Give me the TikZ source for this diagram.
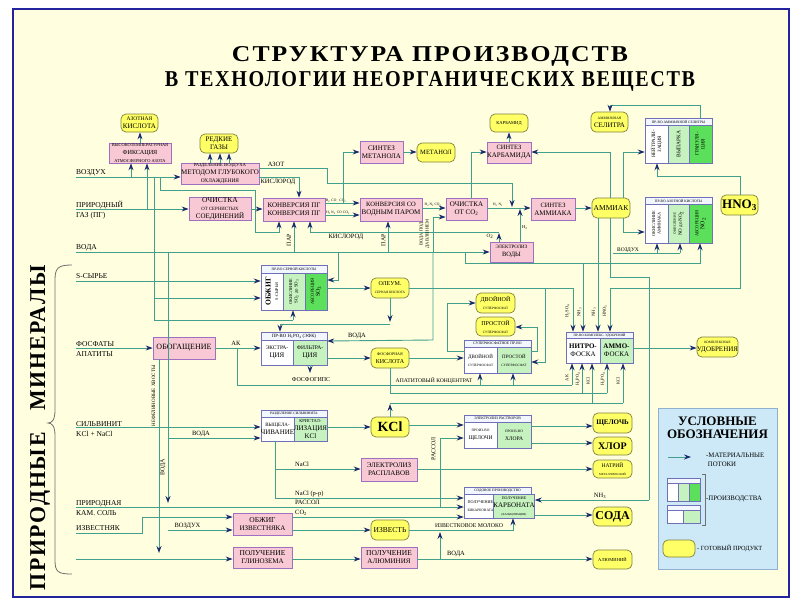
\documentclass[tikz,border=0pt]{standalone}
\usepackage{fontspec}
\setmainfont{Liberation Serif}
\newfontfamily\titlefont{Liberation Serif}[LetterSpace=8]
\usetikzlibrary{arrows.meta}
\definecolor{cream}{HTML}{FFFFE0}
\definecolor{frameC}{HTML}{2323A0}
\definecolor{procF}{HTML}{F8C8D4}
\definecolor{procB}{HTML}{A070C0}
\definecolor{yelF}{HTML}{FFFF66}
\definecolor{yelB}{HTML}{80803C}
\definecolor{lineC}{HTML}{40A08C}
\definecolor{arrC}{HTML}{1C2A6C}
\definecolor{lgF}{HTML}{C6F2C0}
\definecolor{gF}{HTML}{5CE05C}
\definecolor{hdrF}{HTML}{F2F6FF}
\definecolor{prodB}{HTML}{7070B8}
\definecolor{legF}{HTML}{CDE9F7}
\definecolor{legB}{HTML}{90B0D0}
\definecolor{braceC}{HTML}{707070}
\newcommand\fz[2]{\fontsize{#1}{#2}\selectfont}
\newcommand\sbs[1]{\textsubscript{#1}}
\newcommand\rb[7]{\node[#1, minimum width={#5pt-#3pt}, minimum height={#6pt-#4pt}] (#2) at ({(#3+#5)/2},{(#4+#6)/2}) {#7};}
\begin{document}
\begin{tikzpicture}[x=1pt,y=-1pt,
  base/.style={inner sep=0pt, align=center, font=\fz{7}{8}},
  proc/.style={base, draw=procB, fill=procF, line width=0.7pt},
  prod/.style={base, draw=yelB, fill=yelF, rounded corners=5pt, line width=0.7pt},
  hdr/.style={base, draw=prodB, fill=hdrF, line width=0.5pt, font=\fz{3.6}{4}},
  colw/.style={base, draw=prodB, fill=white, line width=0.5pt},
  coll/.style={base, draw=prodB, fill=lgF, line width=0.5pt},
  colg/.style={base, draw=prodB, fill=gF, line width=0.5pt},
  legbox/.style={base, draw=legB, fill=legF, line width=0.8pt},
  rot/.style={inner sep=0pt, align=center, rotate=90},
  flow/.style={draw=lineC, line width=0.9pt, -{Stealth[length=7pt,width=5pt,color=arrC]}},
  ln/.style={draw=lineC, line width=0.9pt},
  lbl/.style={inner sep=0pt, align=left, font=\fz{7.5}{10}},
  sml/.style={inner sep=0pt, align=center, font=\fz{6.5}{7}},
  tiny/.style={inner sep=0pt, align=center, font=\fz{3.6}{4}},
]
\useasboundingbox (0,0) rectangle (800,600);
\fill[white] (0,0) rectangle (800,600);
\fill[cream] (13,9) rectangle (789,597);
\draw[frameC, line width=1.8pt] (13,9) rectangle (789,597);

% titles
\node[inner sep=0pt, anchor=base] (t1) at (430,61) {\resizebox{396pt}{15pt}{\titlefont\bfseries СТРУКТУРА ПРОИЗВОДСТВ}};
\node[inner sep=0pt, anchor=base] (t2) at (430,86) {\resizebox{530pt}{15pt}{\titlefont\bfseries В ТЕХНОЛОГИИ НЕОРГАНИЧЕСКИХ ВЕЩЕСТВ}};
\node[inner sep=0pt, rotate=90, anchor=base] (tmin) at (45,428) {\resizebox{325pt}{15pt}{\titlefont\bfseries ПРИРОДНЫЕ\quad МИНЕРАЛЫ}};
\draw[braceC, line width=0.8pt] (72,265) .. controls (58,265) and (55,268) .. (55,280) -- (55,410) .. controls (55,420) and (52,423) .. (48,423) .. controls (52,423) and (55,426) .. (55,436) -- (55,560) .. controls (55,572) and (58,574) .. (72,574);

% input labels
\node[lbl, anchor=base west] (iVoz) at (76,174.5) {ВОЗДУХ};
\node[lbl, anchor=west] (iPG) at (76,210) {ПРИРОДНЫЙ\\ГАЗ (ПГ)};
\node[lbl, anchor=base west] (iVod) at (76,249) {ВОДА};
\node[lbl, anchor=base west] (iS) at (76,278.5) {S-СЫРЬЕ};
\node[lbl, anchor=west] (iF) at (76,349.5) {ФОСФАТЫ\\АПАТИТЫ};
\node[lbl, anchor=west] (iSil) at (76,429) {СИЛЬВИНИТ\\KCl + NaCl};
\node[lbl, anchor=west] (iKam) at (76,508.5) {ПРИРОДНАЯ\\КАМ. СОЛЬ};
\node[lbl, anchor=base west] (iIzv) at (76,530.5) {ИЗВЕСТНЯК};
\coordinate (cVoz) at (76,177);
\coordinate (cPG) at (76,209);
\coordinate (cVod) at (76,252);
\coordinate (cS) at (76,281);
\coordinate (cF) at (76,348);
\coordinate (cSil) at (76,427);
\coordinate (cKam) at (76,507);
\coordinate (cIzv) at (76,533);
\coordinate (cGl) at (76,559);

% ---- process boxes (pink) ----
\rb{proc}{fix}{109}{143}{171}{163}{\fz{4.4}{5.5}ВЫСОКОТЕМПЕРАТУРНАЯ\\\fz{6.2}{7}ФИКСАЦИЯ\\\fz{4.4}{5.5}АТМОСФЕРНОГО АЗОТА}
\rb{proc}{razd}{189}{163}{251}{184}{\fz{4.7}{5.8}РАЗДЕЛЕНИЕ ВОЗДУХА\\МЕТОДОМ ГЛУБОКОГО\\\fz{5.4}{6}ОХЛАЖДЕНИЯ}
\rb{proc}{ochs}{189}{198}{251}{220}{\fz{7.5}{7.5}ОЧИСТКА\\\fz{4.8}{5.6}ОТ СЕРНИСТЫХ\\СОЕДИНЕНИЙ}
\rb{proc}{kpg}{263}{198}{325}{221}{\fz{7}{10}КОНВЕРСИЯ ПГ\\КОНВЕРСИЯ ПГ}
\rb{proc}{smet}{360}{141}{403}{163}{\fz{7}{8.5}СИНТЕЗ\\МЕТАНОЛА}
\rb{proc}{kco}{360}{198}{422}{221}{\fz{6.5}{8.5}КОНВЕРСИЯ СО\\ВОДНЫМ ПАРОМ}
\rb{proc}{oco}{446}{198}{487}{220}{\fz{7}{8.5}ОЧИСТКА\\ОТ СО\sbs{2}}
\rb{proc}{skarb}{487}{142}{531}{163}{\fz{6.5}{8.5}СИНТЕЗ\\КАРБАМИДА}
\rb{proc}{sam}{531}{198}{575}{220}{\fz{6.5}{8.5}СИНТЕЗ\\АММИАКА}
\rb{proc}{elv}{490}{242}{533}{262}{\fz{5}{7}ЭЛЕКТРОЛИЗ\\\fz{6.5}{7}ВОДЫ}
\rb{proc}{obog}{153}{337}{215}{359}{\fz{8}{8}ОБОГАЩЕНИЕ}
\rb{proc}{elrasp}{361}{458}{417}{481}{\fz{7}{8.5}ЭЛЕКТРОЛИЗ\\РАСПЛАВОВ}
\rb{proc}{obz}{233}{513}{292}{535}{\fz{7.5}{8.5}ОБЖИГ\\ИЗВЕСТНЯКА}
\rb{proc}{polg}{233}{547}{292}{568}{\fz{7.5}{8.5}ПОЛУЧЕНИЕ\\ГЛИНОЗЕМА}
\rb{proc}{polal}{361}{547}{417}{568}{\fz{7.5}{8.5}ПОЛУЧЕНИЕ\\АЛЮМИНИЯ}

% ---- products (yellow) ----
\rb{prod}{azk}{121}{114}{158}{132}{\fz{5.5}{6.5}АЗОТНАЯ\\КИСЛОТА}
\rb{prod}{redk}{200}{134}{238}{153}{\fz{7}{8}РЕДКИЕ\\ГАЗЫ}
\rb{prod}{met}{417}{143}{455}{162}{\fz{6.5}{7}МЕТАНОЛ}
\rb{prod}{karb}{490}{114}{528}{132}{\fz{4.6}{5}КАРБАМИД}
\rb{prod}{sel}{591}{112}{628}{132}{\fz{3.6}{5}АММИАЧНАЯ\\\fz{7}{7.5}СЕЛИТРА}
\rb{prod}{amm}{592}{198}{630}{218}{\fz{7.5}{8}АММИАК}
\rb{prod}{hno}{721}{195}{758}{215}{\fz{13}{13}\bfseries HNO\sbs{3}}
\rb{prod}{ole}{371}{278}{409}{298}{\fz{6}{6.5}ОЛЕУМ.\\\fz{3.4}{4}СЕРНАЯ КИСЛОТА}
\rb{prod}{dv}{476}{293}{515}{313}{\fz{6}{6.5}ДВОЙНОЙ\\\fz{3.4}{4}СУПЕРФОСФАТ}
\rb{prod}{pr}{476}{317}{515}{336}{\fz{6}{6.5}ПРОСТОЙ\\\fz{3.4}{4}СУПЕРФОСФАТ}
\rb{prod}{fosk}{371}{348}{409}{368}{\fz{4}{5}ФОСФОРНАЯ\\\fz{6}{6.5}КИСЛОТА}
\rb{prod}{kompl}{698}{337}{737}{357}{\fz{3.4}{4.2}КОМПЛЕКСНЫЕ\\УДОБРЕНИЯ}
\rb{prod}{kcl}{371}{417}{409}{437}{\fz{14}{14}\bfseries KCl}
\rb{prod}{shch}{593}{413}{632}{433}{\fz{7}{7}\bfseries ЩЕЛОЧЬ}
\rb{prod}{hlor}{593}{437}{632}{455}{\fz{10}{10}\bfseries ХЛОР}
\rb{prod}{natr}{593}{460}{632}{478}{\fz{5.5}{6}НАТРИЙ\\\fz{3}{3.5}МЕТАЛЛИЧЕСКИЙ}
\rb{prod}{soda}{593}{507}{632}{526}{\fz{12}{12}\bfseries СОДА}
\rb{prod}{izv}{371}{520}{409}{540}{\fz{7.5}{8}ИЗВЕСТЬ}
\rb{prod}{alum}{593}{550}{632}{569}{\fz{4.6}{5}АЛЮМИНИЙ}

% ---- production units ----
% ammonium nitrate
\rb{hdr}{selh}{645}{118}{712}{125}{ПР-ВО АММИАЧНОЙ СЕЛИТРЫ}
\rb{colw}{sel1}{645}{125}{668}{163}{}
\rb{coll}{sel2}{668}{125}{689}{163}{}
\rb{colg}{sel3}{689}{125}{712}{163}{}
\node[rot, font=\fz{5}{6}] at (sel1.center) {НЕЙТРАЛИ-\\ЗАЦИЯ};
\node[rot, font=\fz{5.5}{6}] at (sel2.center) {ВЫПАРКА};
\node[rot, font=\fz{5}{6}] at (sel3.center) {ГРАНУЛЯ-\\ЦИЯ};
% nitric acid
\rb{hdr}{azh}{645}{197}{712}{204}{ПР-ВО АЗОТНОЙ КИСЛОТЫ}
\rb{colw}{az1}{645}{204}{668}{243}{}
\rb{coll}{az2}{668}{204}{689}{243}{}
\rb{colg}{az3}{689}{204}{712}{243}{}
\node[rot, font=\fz{4.3}{5.5}] at (az1.center) {ОКИСЛЕНИЕ\\АММИАКА};
\node[rot, font=\fz{5}{6}] at (az2.center) {\fz{3.5}{4.5}ОКИСЛЕНИЕ\\\fz{5}{6}NO до NO\sbs{2}};
\node[rot, font=\fz{4.5}{6}] at (az3.center) {АБСОРБЦИЯ\\\fz{6}{6}NO\sbs{2}};
% sulfuric acid
\rb{hdr}{serh}{261}{265}{327}{273}{ПР-ВО СЕРНОЙ КИСЛОТЫ}
\rb{colw}{ser1}{261}{273}{283}{310}{}
\rb{coll}{ser2}{283}{273}{305}{310}{}
\rb{colg}{ser3}{305}{273}{327}{310}{}
\node[rot, font=\fz{7.5}{7.5}] at (ser1.center) {\bfseries ОБЖИГ\\\fz{4.2}{5}S-СЫРЬЯ};
\node[rot, font=\fz{4.3}{5.5}] at (ser2.center) {ОКИСЛЕНИЕ\\\fz{4.8}{5.5}SO\sbs{2} до SO\sbs{3}};
\node[rot, font=\fz{4.5}{6}] at (ser3.center) {АБСОРБЦИЯ\\\fz{6}{6}SO\sbs{3}};
% phosphoric acid
\rb{hdr}{efkh}{261}{332}{327}{340}{\fz{4.8}{5}ПР-ВО H\sbs{3}PO\sbs{4} (ЭФК)}
\rb{colw}{efk1}{261}{340}{293}{365}{\fz{5.5}{7}ЭКСТРА-\\ЦИЯ}
\rb{coll}{efk2}{293}{340}{327}{365}{\fz{5.5}{7}ФИЛЬТРА-\\ЦИЯ}
% superphosphate
\rb{hdr}{suph}{464}{340}{531}{347}{\fz{3.8}{4}СУПЕРФОСФАТНОЕ ПР-ВО}
\rb{colw}{sup1}{464}{347}{497}{373}{\fz{5}{6}ДВОЙНОЙ\\\fz{3.4}{4}СУПЕРФОСФАТ}
\rb{coll}{sup2}{497}{347}{531}{373}{\fz{5}{6}ПРОСТОЙ\\\fz{3.4}{4}СУПЕРФОСФАТ}
% complex fertilizers
\rb{hdr}{komh}{566}{332}{633}{338}{\fz{3.4}{4}ПР-ВО КОМПЛЕКС. УДОБРЕНИЙ}
\rb{colw}{kom1}{566}{338}{600}{363}{\fz{7}{8.5}\bfseries НИТРО-\\ФОСКА}
\rb{coll}{kom2}{600}{338}{633}{363}{\fz{7}{8.5}\bfseries АММО-\\ФОСКА}
% sylvinite
\rb{hdr}{silh}{261}{410}{327}{417}{\fz{3.6}{4}РАЗДЕЛЕНИЕ СИЛЬВИНИТА}
\rb{colw}{sil1}{261}{417}{294}{441}{\fz{5}{6.5}ВЫЩЕЛА-\\ЧИВАНИЕ}
\rb{coll}{sil2}{294}{417}{327}{441}{\fz{4.5}{5.5}КРИСТАЛ-\\ЛИЗАЦИЯ\\KCl}
% electrolysis of solutions
\rb{hdr}{elrh}{464}{415}{531}{422}{\fz{3.8}{4}ЭЛЕКТРОЛИЗ РАСТВОРОВ}
\rb{colw}{elr1}{464}{422}{497}{448}{\fz{3.6}{5}ПРОИЗ-ВО\\\fz{5.5}{6.5}ЩЕЛОЧИ}
\rb{coll}{elr2}{497}{422}{531}{448}{\fz{3.6}{5}ПРОИЗ-ВО\\\fz{5.5}{6.5}ХЛОРА}
% soda
\rb{hdr}{sodh}{464}{487}{531}{494}{\fz{3.6}{4}СОДОВОЕ ПРОИЗВОДСТВО}
\rb{colw}{sod1}{464}{494}{497}{518}{\fz{4.2}{5}ПОЛУЧЕНИЕ\\\fz{3.6}{4.5}БИКАРБОНАТА}
\rb{coll}{sod2}{497}{494}{531}{518}{\fz{4}{4.6}ПОЛУЧЕНИЕ\\КАРБОНАТА\\\fz{3}{4}(КАЛЬЦИНАЦИЯ)}

% ================= connectors =================
% air / natural gas / N2 fixation
\draw[flow] (cVoz) -- (razd.west |- cVoz);
\draw[flow] (131,177) -- (fix.south -| 131,0);
\draw[flow] (cPG) -- (ochs.west |- cPG);
\draw[flow] (147,209) -- (fix.south -| 147,0);
\draw[flow] (fix.north -| 140,0) -- (azk.south -| 140,0);
\foreach \x in {210,220,229} \draw[flow] (razd.north -| \x,0) -- (redk.south -| \x,0);
\draw[ln] (154,177) -- (154,320) -- (293,320);
\draw[flow] (293,320) -- (ser2.south -| 293,0);
\draw[flow] (154,298) -- (ser1.west |- 0,298);
\draw[flow] (cS) -- (ser1.west |- cS);
\draw[flow] (160,177) -- (160,190) -- (255,190) -- (255,232) -- (279,232) -- (kpg.south -| 279,0);
\draw[flow] (razd.east |- 0,168) -- (327,168) -- (327,183) -- (512,183) -- (512,207);
\node[sml, anchor=base] at (276,166) {АЗОТ};
\draw[flow] (razd.east |- 0,177) -- (299,177) -- (kpg.north -| 299,0);
\node[sml, anchor=north] at (278,179) {КИСЛОРОД};
\draw[flow] (ochs.east) -- (kpg.west |- ochs.east);

% water
\draw[flow] (cVod) -- (elv.west);
\draw[flow] (294,252) -- (kpg.south -| 294,0);
\node[rot, font=\fz{6}{6}] at (289,240) {ПАР};
\draw[flow] (388,252) -- (kco.south -| 388,0);
\node[rot, font=\fz{6}{6}] at (383.5,240) {ПАР};
\draw[flow] (elv.north -| 499,0) -- (499,233);
\draw[flow] (499,232) -- (310,232) -- (kpg.south -| 310,0);
\node[sml, anchor=north] at (346,234) {КИСЛОРОД};
\node[tiny, font=\fz{5}{5}, anchor=north] at (490,233.5) {O\sbs{2}};

% conversion chain
\draw[flow] (kpg.east |- 0,203) -- (kco.west |- 0,203);
\draw[flow] (kpg.east |- 0,215) -- (kco.west |- 0,215);
\node[tiny, anchor=base] at (336,201.5) {H\sbs{2}\,\,CO\,\,\,\,\,CO\sbs{2}};
\node[tiny, anchor=base] at (338,213.5) {H\sbs{2}\,N\sbs{2}\,\,CO\,\,CO\sbs{2}};
\draw[flow] (343,203) -- (343,152) -- (smet.west |- 0,152);
\draw[flow] (smet.east |- 0,152) -- (met.west |- 0,152);
\draw[flow] (kco.east |- 0,208) -- (oco.west |- 0,208);
\node[tiny, anchor=base] at (433,205.5) {H\sbs{2}\,N\sbs{2}\,CO\sbs{2}};
\draw[flow] (433,252) -- (433,217) -- (oco.west |- 0,217);
\node[rot, font=\fz{4.5}{6}] at (424.5,234) {ВОДА ПОД\\ДАВЛЕНИЕМ};
\draw[flow] (oco.east |- 0,208) -- (sam.west |- 0,208);
\node[tiny, anchor=base] at (498,205.5) {H\sbs{2}\,\,N\sbs{2}};
\draw[flow] (elv.north -| 520,0) -- (520,209);
\node[tiny, font=\fz{4.5}{5}, anchor=west] at (522,228) {H\sbs{2}};
\draw[flow] (oco.north -| 471,0) -- (471,152) -- (skarb.west |- 0,152);
\draw[flow] (skarb.north -| 509,0) -- (karb.south -| 509,0);
\draw[flow] (sam.east |- 0,208) -- (amm.west |- 0,208);
\draw[flow] (amm.north -| 610,0) -- (610,152) -- (skarb.east |- 0,152);
\draw[flow] (amm.north -| 623,0) -- (623,152) -- (sel1.west |- 0,152);
\draw[flow] (amm.south -| 623,0) -- (623,232) -- (az1.west |- 0,232);
\draw[flow] (hno.north -| 740,0) -- (740,176) -- (657,176) -- (sel1.south -| 657,0);
\draw[flow] (selh.north -| 700,0) -- (700,105) -- (610,105) -- (sel.north -| 610,0);
\draw[ln] (613,253) -- (680,253);
\draw[flow] (657,253) -- (az1.south -| 657,0);
\draw[flow] (680,253) -- (az2.south -| 680,0);
\node[sml, font=\fz{5.5}{6}, anchor=base] at (628,251) {ВОЗДУХ};
\draw[flow] (465,252) -- (465,263) -- (700,263) -- (az3.south -| 700,0);

% ammonia / nitric acid distribution
\draw[ln] (amm.south -| 610,0) -- (610,277) -- (649,277) -- (649,500);
\draw[flow] (649,500) -- (sod2.east |- 0,500);
\node[sml, anchor=base] at (600,497) {NH\sbs{3}};
\draw[flow] (amm.south -| 598,0) -- (komh.north -| 598,0);
\draw[flow] (583,263) -- (komh.north -| 583,0);
\draw[flow] (hno.south -| 740,0) -- (740,288) -- (610,288) -- (komh.north -| 610,0);
\node[rot, font=\fz{4.5}{5}] at (567.5,311) {H\sbs{2}SO\sbs{4}};
\node[rot, font=\fz{4.5}{5}] at (579.5,312) {NH\sbs{3}};
\node[rot, font=\fz{4.5}{5}] at (594,312) {NH\sbs{3}};
\node[rot, font=\fz{4.5}{5}] at (605,311) {HNO\sbs{3}};

% sulfuric acid / oleum
\draw[flow] (ser3.east |- 0,288) -- (ole.west |- 0,288);
\draw[flow] (ole.east |- 0,288) -- (573,288) -- (komh.north -| 573,0);
\draw[flow] (545,288) -- (545,362) -- (sup2.east |- 0,362);
\draw[flow] (338,252) -- (338,280) -- (ser3.east |- 0,280);
\draw[flow] (ole.south -| 390,0) -- (390,322);
\draw[flow] (390,324) -- (280,324) -- (efkh.north -| 280,0);
\draw[flow] (433,252) -- (433,340) -- (efk2.east |- 0,341);
\node[sml, anchor=base] at (357,337.5) {ВОДА};

% phosphates
\draw[flow] (cF) -- (obog.west |- cF);
\draw[flow] (obog.east |- 0,348) -- (efk1.west |- 0,348);
\node[sml, anchor=base] at (236,345) {АК};
\draw[ln] (237,348) -- (237,385) -- (572,385);
\draw[flow] (572,385) -- (kom1.south -| 572,0);
\draw[flow] (480,385) -- (sup1.south -| 480,0);
\draw[flow] (513,385) -- (sup2.south -| 513,0);
\node[sml, font=\fz{5.6}{6}, anchor=base] at (434,382.5) {АПАТИТОВЫЙ КОНЦЕНТРАТ};
\draw[flow] (efk2.south -| 310,0) -- (310,373);
\node[sml, font=\fz{6}{6}, anchor=base] at (311,381.5) {ФОСФОГИПС};
\draw[flow] (efk2.east |- 0,358) -- (fosk.west |- 0,358);
\draw[flow] (fosk.east |- 0,358) -- (sup1.west |- 0,358);
\draw[ln] (fosk.south -| 390,0) -- (390,393) -- (607,393);
\draw[flow] (607,393) -- (kom2.south -| 607,0);
\draw[flow] (582,393) -- (kom1.south -| 582,0);
\draw[flow] (sup1.west |- 0,351) -- (447,351) -- (447,303) -- (dv.west |- 0,303);
\draw[flow] (sup2.east |- 0,351) -- (537,351) -- (537,327) -- (pr.east |- 0,327);
\draw[flow] (kom2.east |- 0,348) -- (kompl.west |- 0,348);
\node[rot, font=\fz{4.5}{5}] at (567,378) {АК};
\node[rot, font=\fz{4.5}{5}] at (578,379) {H\sbs{3}PO\sbs{4}};
\node[rot, font=\fz{4.5}{5}] at (588,381) {KCl};
\node[rot, font=\fz{4.5}{5}] at (603,379) {H\sbs{3}PO\sbs{4}};
\node[rot, font=\fz{4.5}{5}] at (618,381) {KCl};
\draw[flow] (obog.south -| 159,0) -- (159,553);
\node[rot, font=\fz{5}{5}] at (153.5,396) {НЕФЕЛИНОВЫЕ ХВОСТЫ};

% sylvinite, salts
\draw[flow] (cSil) -- (sil1.west |- cSil);
\draw[flow] (168,252) -- (168,503);
\draw[flow] (168,438) -- (sil1.west |- 0,438);
\node[sml, anchor=base] at (201,435) {ВОДА};
\node[rot, font=\fz{6}{6}] at (163,467) {ВОДА};
\draw[flow] (sil2.east |- 0,427) -- (kcl.west |- 0,427);
\draw[flow] (kcl.north -| 390,0) -- (390,404);
\draw[ln] (390,403) -- (623,403);
\draw[flow] (623,403) -- (kom2.south -| 623,0);
\draw[flow] (592,403) -- (kom1.south -| 592,0);
\draw[flow] (kcl.east |- 0,425) -- (elr1.west |- 0,425);
\draw[ln] (sil1.south -| 275,0) -- (275,498);
\draw[flow] (275,498) -- (sod1.west |- 0,498);
\draw[flow] (275,469) -- (elrasp.west |- 0,469);
\node[sml, anchor=base west] at (295,466.5) {NaCl};
\node[sml, anchor=base west] at (295,495) {NaCl (р-р)};
\node[sml, anchor=base west] at (295,504.5) {РАССОЛ};
\node[sml, anchor=base west] at (295,514.5) {CO\sbs{2}};
\draw[flow] (elrasp.east |- 0,469) -- (natr.west |- 0,469);
\draw[flow] (cKam) -- (sod1.west |- cKam);
\draw[flow] (440,507) -- (440,438) -- (elr1.west |- 0,438);
\node[rot, font=\fz{6}{6}] at (433.5,449) {РАССОЛ};
\draw[flow] (elr2.east |- 0,426) -- (shch.west |- 0,426);
\draw[flow] (elr2.east |- 0,443) -- (hlor.west |- 0,443);

% limestone, soda, alumina
\draw[flow] (cIzv) -- (142,533) -- (142,517) -- (obz.west |- 0,517);
\draw[flow] (168,530) -- (obz.west |- 0,530);
\node[sml, anchor=base] at (187.5,527.5) {ВОЗДУХ};
\draw[flow] (obz.east |- 0,517) -- (sod1.west |- 0,517);
\draw[flow] (obz.east |- 0,530) -- (izv.west |- 0,530);
\draw[flow] (izv.east |- 0,530) -- (513,530) -- (sod2.south -| 513,0);
\node[sml, font=\fz{5.8}{6}, anchor=base] at (469,527.5) {ИЗВЕСТКОВОЕ МОЛОКО};
\draw[flow] (sod2.east |- 0,515) -- (soda.west |- 0,515);
\draw[flow] (cGl) -- (polg.west |- cGl);
\draw[flow] (polg.east |- 0,559) -- (polal.west |- 0,559);
\draw[flow] (polal.east |- 0,559) -- (alum.west |- 0,559);
\draw[flow] (440,559) -- (440,532);
\node[sml, anchor=base] at (456,555) {ВОДА};

% ---- legend ----
\rb{legbox}{leg}{658}{408}{777}{569}{}
\node[inner sep=0pt, font=\fz{13}{13}\bfseries, anchor=base] at (717.5,425) {УСЛОВНЫЕ};
\node[inner sep=0pt, font=\fz{13}{13}\bfseries, anchor=base] at (717.5,438) {ОБОЗНАЧЕНИЯ};
\coordinate (la) at (668,457);
\draw[flow] (la) -- (691,457);
\node[inner sep=0pt, align=left, font=\fz{6.8}{9}, anchor=west] at (706,460) {-МАТЕРИАЛЬНЫЕ\\\ ПОТОКИ};
\rb{hdr}{lh1}{667}{478}{700}{483}{}
\rb{colw}{lc1}{667}{483}{678}{501}{}
\rb{coll}{lc2}{678}{483}{689}{501}{}
\rb{colg}{lc3}{689}{483}{700}{501}{}
\rb{hdr}{lh2}{667}{505}{700}{510}{}
\rb{colw}{lc4}{667}{510}{683}{523}{}
\rb{coll}{lc5}{683}{510}{700}{523}{}
\draw[braceC, line width=0.6pt] (702,474) -- (705,474) -- (705,525) -- (702,525);
\node[inner sep=0pt, font=\fz{6.8}{7}, anchor=west] at (706,499) {-ПРОИЗВОДСТВА};
\rb{prod}{legy}{663}{540}{695}{557}{}
\node[inner sep=0pt, font=\fz{6.3}{7}, anchor=west] at (697,548.5) {- ГОТОВЫЙ ПРОДУКТ};
\end{tikzpicture}
\end{document}
